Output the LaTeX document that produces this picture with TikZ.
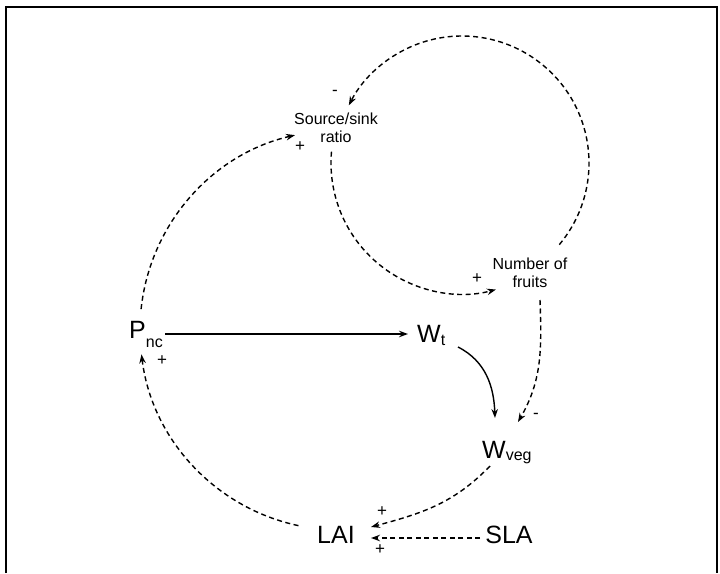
\documentclass[tikz,border=0pt]{standalone}
\usepackage{fontspec}
\setmainfont{Liberation Sans}
\usetikzlibrary{arrows.meta}
\begin{document}
\begin{tikzpicture}[x=1pt,y=1pt,
  big/.style={font=\fontsize{25}{29}\selectfont, inner sep=0pt},
  small/.style={font=\fontsize{16}{18.5}\selectfont, align=center, inner sep=0pt},
  sign/.style={font=\fontsize{17}{18}\selectfont, inner sep=0pt},
  link/.style={line width=1.4pt, -{Stealth[length=9pt,width=6.5pt]}},
  dlink/.style={link, dash pattern=on 5pt off 3.5pt},
  frame/.style={line width=1.4pt}
]
\useasboundingbox (0,0) rectangle (720,-573);
\draw[frame] (6,-573) -- (6,-7) -- (717,-7) -- (717,-573);

% main nodes
\node[big, anchor=base west] (pnc) at (129,-338) {P\raisebox{-9pt}{\fontsize{16}{16}\selectfont nc}};
\node[big, anchor=base west] (wt) at (417,-342) {W\raisebox{-3pt}{\fontsize{16}{16}\selectfont t}};
\node[big, anchor=base west] (wveg) at (482,-458) {W\raisebox{-2pt}{\fontsize{16}{16}\selectfont veg}};
\node[big, anchor=base] (lai) at (336,-543) {LAI};
\node[big, anchor=base] (sla) at (509,-543) {SLA};
\node[small] (ssr) at (336,-128) {Source/sink\\ratio};
\node[small] (nof) at (530,-273) {Number of\\fruits};

% signs
\node[sign] (s1) at (335,-93) {-};
\node[sign] (s2) at (300,-147) {+};
\node[sign] (s3) at (477,-279) {+};
\node[sign] (s4) at (162,-361) {+};
\node[sign] (s5) at (536,-416) {-};
\node[sign] (s6) at (382,-512) {+};
\node[sign] (s7) at (380,-550) {+};

% centres of the circular connectors
\coordinate (O1) at (340,-330);
\coordinate (O2) at (462,-163);

% connector end points
\coordinate (pncE) at (165,-334);
\coordinate (wtW) at (408,-334);
\coordinate (wtSE) at (458,-347);
\coordinate (wvegA) at (495,-418);
\coordinate (nofS) at (540,-300);
\coordinate (wvegB) at (518,-422);
\coordinate (wvegS) at (490,-466);
\coordinate (laiA) at (371,-527);
\coordinate (slaW) at (480,-538);
\coordinate (laiB) at (371,-538);

% connectors
\draw[link] (pncE) -- (wtW);
\draw[link] (wtSE) to[out=-27,in=92] (wvegA);
\draw[dlink] (nofS) to[out=-88,in=60] (wvegB);
\draw[dlink] (wvegS) to[out=-134,in=15] (laiA);
\draw[dlink] (slaW) -- (laiB);
\draw[dlink] ([shift={(174:200)}]O1) arc[start angle=174, end angle=103, radius=200];
\draw[dlink] ([shift={(258:200)}]O1) arc[start angle=258, end angle=187, radius=200];
\draw[dlink] ([shift={(-40:127)}]O2) arc[start angle=-40, end angle=153, radius=127];
\draw[dlink] ([shift={(175:131)}]O2) arc[start angle=175, end angle=285, radius=131];
\end{tikzpicture}
\end{document}
